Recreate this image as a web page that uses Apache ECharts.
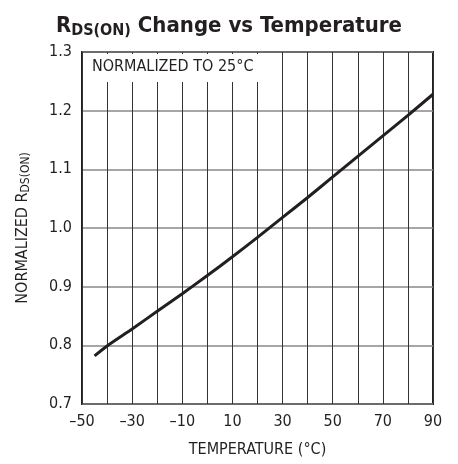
<!DOCTYPE html>
<html><head><meta charset="utf-8">
<script src="https://cdn.jsdelivr.net/npm/echarts@6/dist/echarts.min.js"></script>
<style>html,body{margin:0;padding:0;background:#fff}#c{width:458px;height:464px}</style>
</head><body><div id="c"></div>
<script>
const temperature = [-45, -40, -30, -20, -10, 0, 10, 20, 30, 40, 50, 60, 70, 80, 90];
const rdsNormalized = [0.782, 0.799, 0.828, 0.858, 0.888, 0.919, 0.951, 0.984, 1.018, 1.052, 1.087, 1.122, 1.157, 1.192, 1.228];
const xTicks = [-50, -30, -10, 10, 30, 50, 70, 90];
const yTicks = [0.7, 0.8, 0.9, 1.0, 1.1, 1.2, 1.3];

const FONT = '"Liberation Sans Narrow","DejaVu Sans Condensed","Roboto Condensed",sans-serif';
const chart = echarts.init(document.getElementById('c'));
chart.setOption({
  animation: false,
  title: {
    text: '{r|R}{s|DS(ON)}{r| Change vs Temperature}',
    left: 'center', top: 8,
    textStyle: {
      rich: {
        r: {fontFamily: FONT, fontWeight: 'bold', fontSize: 22, color: '#231f20'},
        s: {fontFamily: FONT, fontWeight: 'bold', fontSize: 16, color: '#231f20', verticalAlign: 'bottom', padding: [10, 0, 0, 0]}
      }
    }
  },
  grid: {left: 82, right: 25, top: 52, bottom: 60, show: true, borderColor: '#231f20', borderWidth: 2},
  xAxis: {
    type: 'value', min: -50, max: 90, interval: 10,
    name: 'TEMPERATURE (°C)', nameLocation: 'middle', nameGap: 38,
    nameTextStyle: {fontFamily: FONT, fontSize: 16, color: '#231f20'},
    axisLine: {show: false}, axisTick: {show: false},
    axisLabel: {
      fontFamily: FONT, fontSize: 16, color: '#231f20', margin: 10,
      formatter: v => xTicks.includes(v) ? String(v).replace('-', '\u2013') : ''
    },
    splitLine: {lineStyle: {color: '#333', width: 1}}
  },
  yAxis: {
    type: 'value', min: 0.7, max: 1.3, interval: 0.1,
    name: '{n|NORMALIZED R}{s|DS(ON)}', nameLocation: 'middle', nameGap: 50, nameRotate: 90,
    nameTextStyle: {
      rich: {
        n: {fontFamily: FONT, fontSize: 16, color: '#231f20'},
        s: {fontFamily: FONT, fontSize: 12, color: '#231f20', verticalAlign: 'bottom', padding: [6, 0, 0, 0]}
      }
    },
    axisLine: {show: false}, axisTick: {show: false},
    axisLabel: {
      fontFamily: FONT, fontSize: 16, color: '#231f20', margin: 10,
      formatter: v => {
        const t = yTicks.find(k => Math.abs(k - v) < 1e-6);
        return t === undefined ? '' : t.toFixed(1);
      }
    },
    splitLine: {lineStyle: {color: '#888', width: 1.5}}
  },
  graphic: [{
    type: 'rect', left: 84, top: 54, z: 10,
    shape: {width: 178, height: 28},
    style: {fill: '#fff'}
  }, {
    type: 'text', left: 92, top: 59, z: 11,
    style: {text: 'NORMALIZED TO 25°C', font: '16px ' + FONT, fill: '#231f20'}
  }],
  series: [{
    type: 'line', data: temperature.map((t, i) => [t, rdsNormalized[i]]),
    smooth: 0.3, symbol: 'none',
    lineStyle: {color: '#231f20', width: 3}
  }]
});
</script></body></html>
